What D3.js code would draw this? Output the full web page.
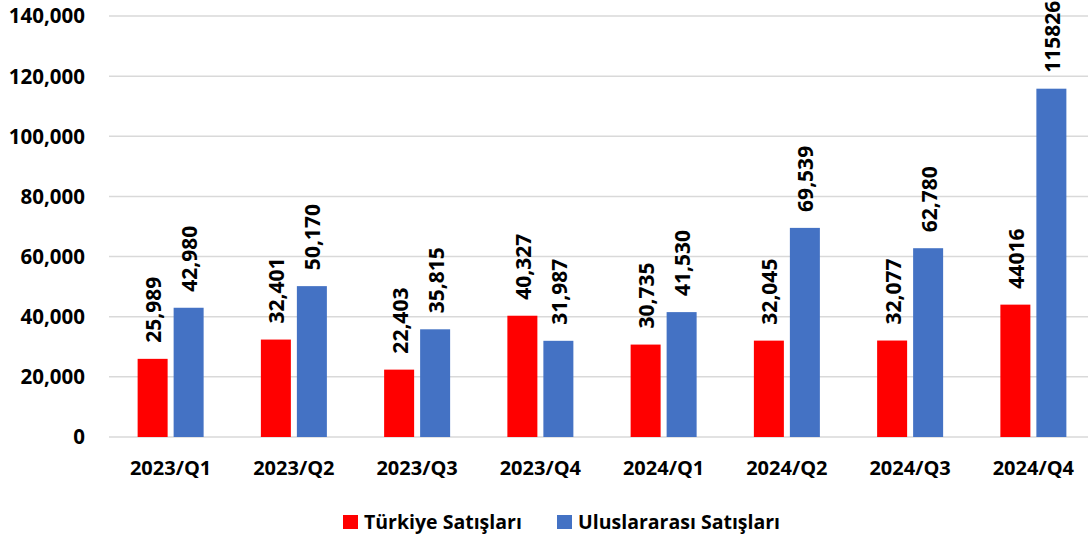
<!DOCTYPE html>
<html>
<head>
<meta charset="utf-8">
<script src="https://cdn.jsdelivr.net/npm/d3@7"></script>
<style>
  body { margin: 0; background: #fff; }
  svg text { font-family: "Open Sans", sans-serif; font-weight: bold; fill: #000; }
</style>
</head>
<body>
<div id="chart"></div>
<script>
const categories = ['2023/Q1', '2023/Q2', '2023/Q3', '2023/Q4', '2024/Q1', '2024/Q2', '2024/Q3', '2024/Q4'];
const turkiye = [25989, 32401, 22403, 40327, 30735, 32045, 32077, 44016];
const uluslararasi = [42980, 50170, 35815, 31987, 41530, 69539, 62780, 115826];
const turkiyeLabels = ['25,989', '32,401', '22,403', '40,327', '30,735', '32,045', '32,077', '44016'];
const uluslararasiLabels = ['42,980', '50,170', '35,815', '31,987', '41,530', '69,539', '62,780', '115826'];
const yTicks = [0, 20000, 40000, 60000, 80000, 100000, 120000, 140000];
const seriesNames = ['Türkiye Satışları', 'Uluslararası Satışları'];
const colors = ['#ff0000', '#4472c4'];

const width = 1088, height = 537;
const svg = d3.select('#chart').append('svg').attr('width', width).attr('height', height);

const x = d3.scaleBand().domain(categories).range([109, 1095]);
const y = d3.scaleLinear().domain([0, 140000]).range([437, 16]);

// gridlines
svg.append('g').selectAll('line').data(yTicks).enter().append('line')
  .attr('x1', 109).attr('x2', width)
  .attr('y1', d => y(d)).attr('y2', d => y(d))
  .attr('stroke', '#d9d9d9').attr('stroke-width', 1.5);

// y tick labels
svg.append('g').selectAll('text').data(yTicks).enter().append('text')
  .attr('x', 85).attr('y', d => y(d)).attr('dy', '0.36em')
  .attr('text-anchor', 'end').style('font-size', '20.5px')
  .text(d => d3.format(',')(d));

const barW = 30, gap = 6;
const series = [
  { vals: turkiye, labels: turkiyeLabels, off: -gap / 2 - barW },
  { vals: uluslararasi, labels: uluslararasiLabels, off: gap / 2 }
];

series.forEach((s, i) => {
  const g = svg.append('g');
  g.selectAll('rect').data(categories).enter().append('rect')
    .attr('x', (c) => x(c) + x.bandwidth() / 2 + s.off)
    .attr('y', (c, j) => y(s.vals[j]))
    .attr('width', barW)
    .attr('height', (c, j) => y(0) - y(s.vals[j]))
    .attr('fill', colors[i]);
  g.selectAll('text').data(categories).enter().append('text')
    .attr('transform', (c, j) => {
      const cx = x(c) + x.bandwidth() / 2 + s.off + barW / 2 + 1;
      const cy = y(s.vals[j]) - 16;
      return `translate(${cx},${cy}) rotate(-90)`;
    })
    .attr('dy', '0.36em')
    .style('font-size', '21px')
    .text((c, j) => s.labels[j]);
});

// category labels
svg.append('g').selectAll('text').data(categories).enter().append('text')
  .attr('x', c => x(c) + x.bandwidth() / 2).attr('y', 468)
  .attr('dy', '0.36em').attr('text-anchor', 'middle')
  .style('font-size', '20px')
  .text(c => c);

// legend
const legend = svg.append('g');
const legX = [343, 557];
seriesNames.forEach((n, i) => {
  legend.append('rect').attr('x', legX[i]).attr('y', 515).attr('width', 15).attr('height', 14).attr('fill', colors[i]);
  legend.append('text').attr('x', legX[i] + 21).attr('y', 522).attr('dy', '0.36em')
    .style('font-size', '19.5px').text(n);
});
</script>
</body>
</html>
